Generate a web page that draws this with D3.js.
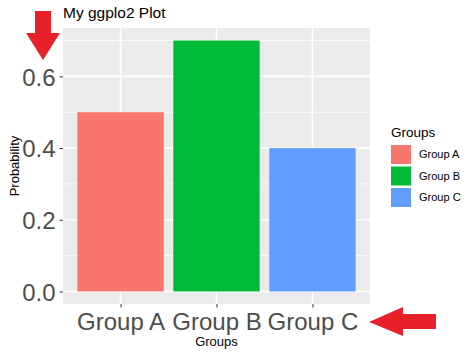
<!DOCTYPE html>
<html>
<head>
<meta charset="utf-8">
<script src="https://d3js.org/d3.v7.min.js"></script>
<style>
  body { margin: 0; background: #fff; }
  svg { display: block; font-family: "Liberation Sans", Arial, sans-serif; }
</style>
</head>
<body>
<svg width="474" height="355"></svg>
<script>
// data
const groups = ["Group A", "Group B", "Group C"];
const probability = [0.5, 0.7, 0.4];
const fills = ["#F8766D", "#00BA38", "#619CFF"];
const yTicks = [0.0, 0.2, 0.4, 0.6];
const yMinor = [0.1, 0.3, 0.5, 0.7];

const svg = d3.select("svg");
const panel = {left: 63, right: 370, top: 28, bottom: 304};

// discrete x: positions 1..3 with 0.6 expansion each side
const x = d3.scaleLinear().domain([0.4, 3.6]).range([panel.left, panel.right]);
const y = d3.scaleLinear().domain([-0.035, 0.735]).range([panel.bottom, panel.top]);
const pos = (g) => groups.indexOf(g) + 1;

// panel background
svg.append("rect")
    .attr("x", panel.left).attr("y", panel.top)
    .attr("width", panel.right - panel.left).attr("height", panel.bottom - panel.top)
    .attr("fill", "#EBEBEB");

// grid
const grid = svg.append("g").attr("stroke", "#fff");
grid.selectAll("line.minor").data(yMinor).enter().append("line")
    .attr("x1", panel.left).attr("x2", panel.right)
    .attr("y1", d => y(d)).attr("y2", d => y(d))
    .attr("stroke-width", 0.8);
grid.selectAll("line.major").data(yTicks).enter().append("line")
    .attr("x1", panel.left).attr("x2", panel.right)
    .attr("y1", d => y(d)).attr("y2", d => y(d))
    .attr("stroke-width", 1.6);
grid.selectAll("line.vmajor").data(groups).enter().append("line")
    .attr("y1", panel.top).attr("y2", panel.bottom)
    .attr("x1", d => x(pos(d))).attr("x2", d => x(pos(d)))
    .attr("stroke-width", 1.6);

// bars
svg.append("g").selectAll("rect").data(groups).enter().append("rect")
    .attr("x", d => x(pos(d) - 0.45))
    .attr("width", d => x(pos(d) + 0.45) - x(pos(d) - 0.45))
    .attr("y", (d, i) => y(probability[i]))
    .attr("height", (d, i) => y(0) - y(probability[i]))
    .attr("fill", (d, i) => fills[i]);

// y axis
const yAxis = svg.append("g")
    .attr("transform", `translate(${panel.left},0)`)
    .call(d3.axisLeft(y).tickValues(yTicks).tickFormat(d3.format(".1f")).tickSize(3.5).tickPadding(4));
yAxis.select(".domain").remove();
yAxis.selectAll(".tick line").attr("stroke", "#333").attr("stroke-width", 1);
yAxis.selectAll(".tick text").attr("fill", "#4D4D4D").attr("font-size", 24)
    .attr("font-family", "Liberation Sans, Arial, sans-serif").attr("dy", "0.36em");

// x axis
const xAxis = svg.append("g")
    .attr("transform", `translate(0,${panel.bottom})`)
    .call(d3.axisBottom(x).tickValues([1, 2, 3]).tickFormat(d => groups[d - 1]).tickSize(3.5).tickPadding(5));
xAxis.select(".domain").remove();
xAxis.selectAll(".tick line").attr("stroke", "#333").attr("stroke-width", 1);
xAxis.selectAll(".tick text").attr("fill", "#4D4D4D").attr("font-size", 24)
    .attr("font-family", "Liberation Sans, Arial, sans-serif").attr("dy", "0.72em");

// titles
svg.append("text").attr("x", (panel.left + panel.right) / 2).attr("y", 346)
    .attr("text-anchor", "middle").attr("font-size", 13).attr("fill", "#000").text("Groups");
svg.append("text")
    .attr("transform", `translate(18.5,${(panel.top + panel.bottom) / 2}) rotate(-90)`)
    .attr("text-anchor", "middle").attr("font-size", 13).attr("fill", "#000").text("Probability");
svg.append("text").attr("x", panel.left).attr("y", 18)
    .attr("font-size", 15.5).attr("fill", "#000").text("My ggplo2 Plot");

// legend
const legend = svg.append("g").attr("transform", "translate(391,0)");
legend.append("text").attr("x", 0).attr("y", 137).attr("font-size", 13.5).attr("fill", "#000").text("Groups");
const keys = legend.selectAll("g.key").data(groups).enter().append("g")
    .attr("transform", (d, i) => `translate(0,${145 + i * 21.5})`);
keys.append("rect").attr("width", 20).attr("height", 19).attr("fill", (d, i) => fills[i]);
keys.append("text").attr("x", 28).attr("y", 9.5).attr("dy", "0.36em")
    .attr("font-size", 11).attr("fill", "#000").text(d => d);

// red arrows
const red = "#E8202A";
svg.append("path").attr("fill", red)
    .attr("d", "M35,11 L51,11 L51,33 L60,33 L43,60 L26,33 L35,33 Z");
svg.append("path").attr("fill", red)
    .attr("d", "M436,314 L436,329 L403,329 L403,336 L369,322 L403,307 L403,314 Z");
</script>
</body>
</html>
